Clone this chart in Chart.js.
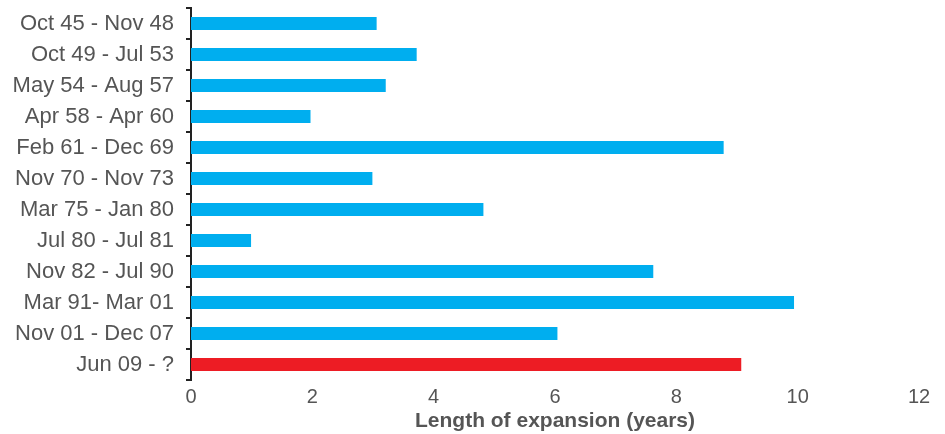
<!DOCTYPE html>
<html>
<head>
<meta charset="utf-8">
<script src="https://cdn.jsdelivr.net/npm/chart.js@4"></script>
<style>
  html, body { margin: 0; padding: 0; background: #fff; }
  #wrap { width: 945px; height: 434px; }
</style>
</head>
<body>
<div id="wrap"><canvas id="expansions"></canvas></div>
<script>
const periods = [
    "Oct 45 - Nov 48", "Oct 49 - Jul 53", "May 54 - Aug 57", "Apr 58 - Apr 60",
    "Feb 61 - Dec 69", "Nov 70 - Nov 73", "Mar 75 - Jan 80", "Jul 80 - Jul 81",
    "Nov 82 - Jul 90", "Mar 91- Mar 01", "Nov 01 - Dec 07", "Jun 09 - ?"
];
const years = [3.06, 3.72, 3.21, 1.97, 8.78, 2.99, 4.82, 0.99, 7.62, 9.94, 6.04, 9.07];
const xTicks = [0, 2, 4, 6, 8, 10, 12];

const blue = "#00AEEF";
const red = "#ED1C24";
const textGrey = "#555555";

const ctx = document.getElementById("expansions").getContext("2d");

new Chart(ctx, {
    type: "bar",
    data: {
        labels: periods,
        datasets: [
            {
                data: years,
                // last one is the current expansion
                backgroundColor: periods.map((p, i) => (i === periods.length - 1 ? red : blue)),
                borderWidth: 0,
                barPercentage: 0.84,
                categoryPercentage: 0.5,
            },
        ],
    },
    options: {
        indexAxis: "y",
        responsive: true,
        maintainAspectRatio: false,
        animation: false,
        layout: { padding: { top: 8, right: 26, bottom: 0, left: 0 } },
        plugins: { legend: { display: false }, tooltip: { enabled: false } },
        scales: {
            x: {
                min: 0,
                max: 12,
                afterBuildTicks: (axis) => {
                    axis.ticks = xTicks.map((v) => ({ value: v }));
                },
                afterFit: (axis) => {
                    axis.height = 54;
                },
                grid: { display: false, drawTicks: false },
                border: { display: false },
                ticks: {
                    color: textGrey,
                    font: { family: "Liberation Sans", size: 20 },
                    padding: 5,
                },
                title: {
                    display: true,
                    text: "Length of expansion (years)",
                    color: textGrey,
                    font: { family: "Liberation Sans", size: 21, weight: "bold" },
                    padding: { top: 0, bottom: 0 },
                },
            },
            y: {
                afterFit: (axis) => {
                    axis.width = 191;
                    axis.paddingTop = 0;
                    axis.paddingBottom = 0;
                },
                grid: {
                    drawOnChartArea: false,
                    drawTicks: true,
                    tickLength: 5,
                    color: "#222",
                    lineWidth: 2,
                },
                border: { display: true, color: "#222", width: 2 },
                ticks: {
                    color: textGrey,
                    font: { family: "Liberation Sans", size: 22 },
                    padding: 12,
                },
            },
        },
    },
});
</script>
</body>
</html>
